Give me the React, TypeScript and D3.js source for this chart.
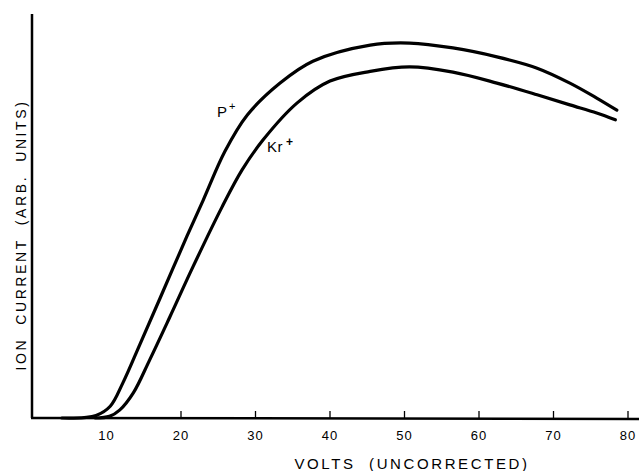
import React from "react";
import * as d3 from "d3";

const W = 640;
const H = 471;

// Volts (uncorrected) and ion current (arb. units, 0-100 scale)
const pVolts = [4, 7.0, 8.6, 10.5, 12.2, 14.5, 17.2, 20.8, 23.0, 25.9, 28.9, 33.3, 37.7, 45.4, 50.7, 56.5, 62.4, 67.8, 72.2, 75.8, 78.5];
const pCurrent = [0, 0.1, 0.6, 2.9, 8.7, 18.3, 29.7, 45.0, 54.0, 66.0, 75.0, 82.9, 88.3, 92.3, 92.8, 91.6, 89.4, 86.6, 82.9, 79.2, 76.2];

const krVolts = [8.5, 10.4, 11.8, 13.6, 15.8, 18.5, 21.6, 25.5, 28.2, 31.0, 35.6, 40.0, 45.4, 50.7, 56.5, 62.4, 67.8, 72.2, 75.8, 78.3];
const krCurrent = [0, 0.4, 2.0, 6.2, 14.4, 25.0, 37.4, 52.2, 61.4, 68.8, 78.0, 83.4, 85.8, 86.9, 85.6, 82.9, 80.0, 77.5, 75.5, 73.8];

const tickValues = [10, 20, 30, 40, 50, 60, 70, 80];
const tickMarks = [20, 30, 40, 50, 60, 70, 80];

const FONT = "'Liberation Sans', Arial, sans-serif";

export default function App() {
  const x = d3.scaleLinear().domain([0, 80]).range([32, 628]);
  const y = d3.scaleLinear().domain([0, 100]).range([418, 14]);

  const line = d3
    .line<[number, number]>()
    .x((d) => x(d[0]))
    .y((d) => y(d[1]))
    .curve(d3.curveCatmullRom.alpha(0.5));

  const pData = pVolts.map((v, i) => [v, pCurrent[i]] as [number, number]);
  const krData = krVolts.map((v, i) => [v, krCurrent[i]] as [number, number]);

  return (
    <svg
      width={W}
      height={H}
      style={{ position: "absolute", left: 0, top: 0, background: "#fff" }}
    >
      <rect x={0} y={0} width={W} height={H} fill="#fff" />
      {/* axes */}
      <line x1={x(0)} y1={y(100)} x2={x(0)} y2={y(0)} stroke="#000" strokeWidth={2.5} />
      <line x1={x(0) - 1} y1={y(0)} x2={639} y2={y(0) + 1} stroke="#000" strokeWidth={2.5} />
      {tickMarks.map((t) => (
        <line key={t} x1={x(t)} x2={x(t)} y1={y(0)} y2={y(0) - 7} stroke="#000" strokeWidth={1.3} />
      ))}
      {tickValues.map((t) => (
        <text
          key={t}
          x={x(t)}
          y={440}
          textAnchor="middle"
          fontFamily={FONT}
          fontSize={13}
          letterSpacing={1}
          fill="#000"
        >
          {t}
        </text>
      ))}
      <text
        x={412}
        y={469}
        textAnchor="middle"
        fontFamily={FONT}
        fontSize={15}
        letterSpacing={2.6}
        fill="#000"
      >
        VOLTS{"\u00a0\u00a0"}(UNCORRECTED)
      </text>
      <text
        transform="translate(26,235) rotate(-90)"
        textAnchor="middle"
        fontFamily={FONT}
        fontSize={14}
        letterSpacing={2.6}
        fill="#000"
      >
        ION{"\u00a0\u00a0"}CURRENT{"\u00a0\u00a0"}(ARB.{"\u00a0\u00a0"}UNITS)
      </text>
      {/* curves */}
      <path d={line(pData) ?? ""} fill="none" stroke="#000" strokeWidth={3.2} strokeLinecap="round" />
      <path d={line(krData) ?? ""} fill="none" stroke="#000" strokeWidth={3.2} strokeLinecap="round" />
      {/* labels */}
      <text x={217} y={117} fontFamily={FONT} fontSize={15} fill="#000">
        P
      </text>
      <text x={229} y={110} fontFamily={FONT} fontSize={11} fill="#000">
        +
      </text>
      <text x={267} y={152} fontFamily={FONT} fontSize={15} letterSpacing={0.5} fill="#000">
        Kr
      </text>
      <text x={286} y={146} fontFamily={FONT} fontSize={12} fontWeight="bold" fill="#000">
        +
      </text>
    </svg>
  );
}
